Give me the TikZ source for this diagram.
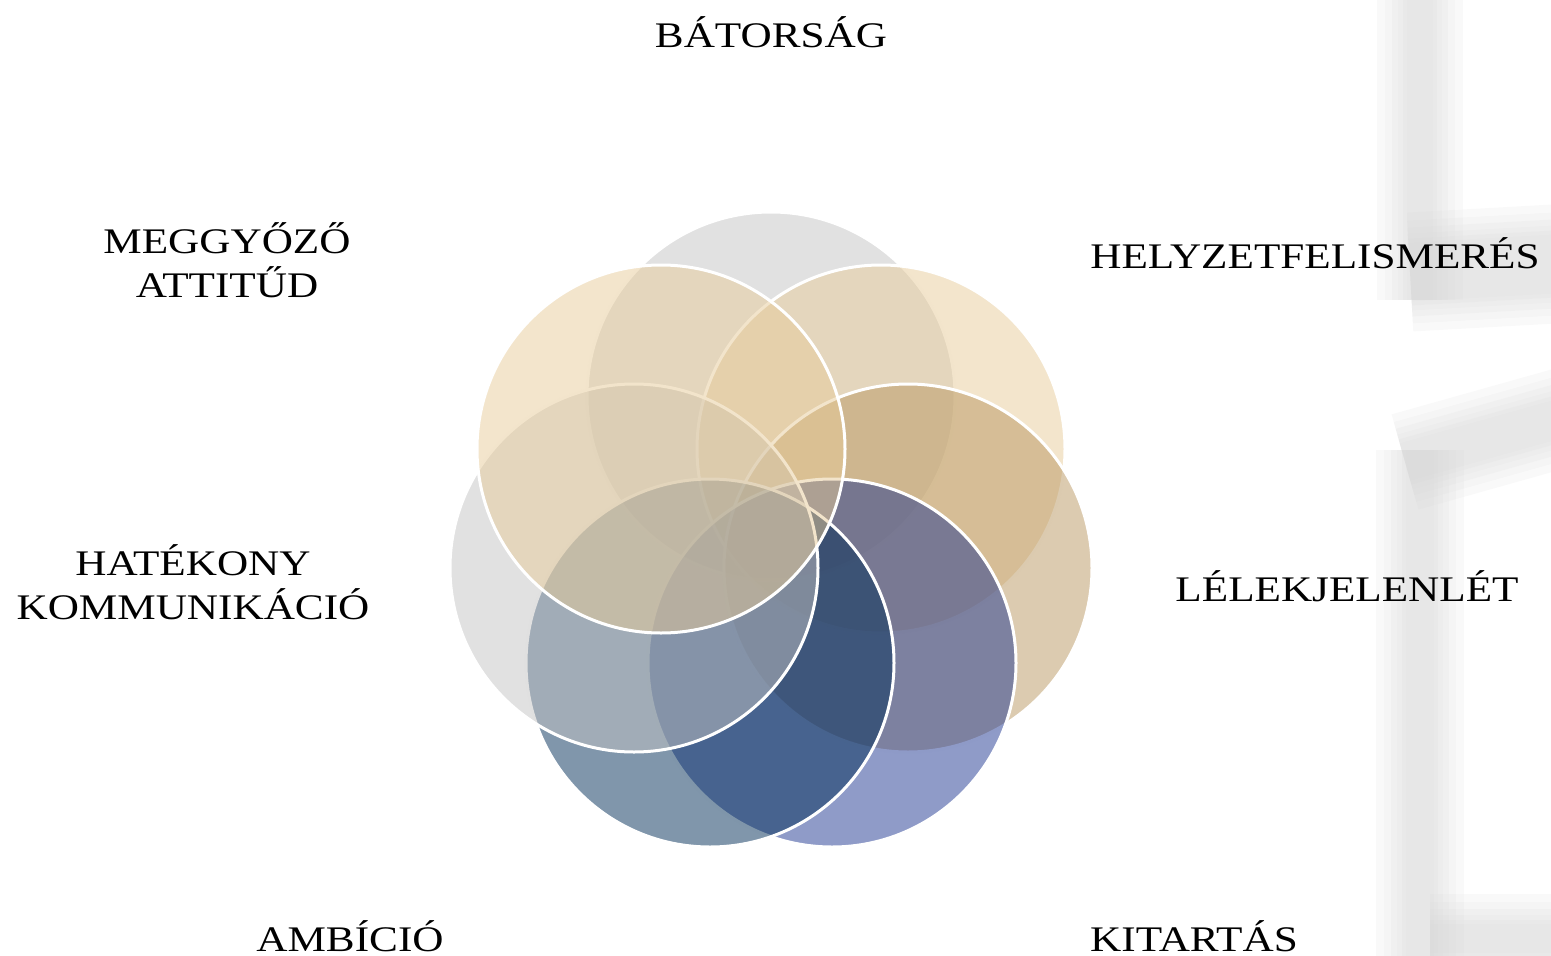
\documentclass[tikz,border=0pt]{standalone}
\usepackage{fontspec}
\setmainfont{Liberation Serif}[FakeStretch=1.2]
\definecolor{cgray}{HTML}{C3C3C3}
\definecolor{cbeige}{HTML}{E7CB99}
\definecolor{ctan}{HTML}{B99761}
\definecolor{clilac}{HTML}{1F3791}
\definecolor{cnavy}{HTML}{012D57}
\definecolor{bandgray}{HTML}{D4D4D4}
\newcommand\blurband[2]{%
  \foreach \e in {64,48,34,22,12,4}{%
    \pgfmathsetmacro\lw{#1+\e}%
    \draw[line width=\lw pt, draw=bandgray, draw opacity=0.13, line cap=butt, line join=round] #2;}}
\begin{document}
\begin{tikzpicture}[x=1pt,y=-1pt,
  venn/.style={fill opacity=0.5, draw=white, line width=3pt},
  lbl/.style={font=\fontsize{36}{44}\selectfont, inner sep=0pt, anchor=base}]
\useasboundingbox (0,0) rectangle (1551,956);
% blurred background on the right
\blurband{22}{(1420,-40) -- (1420,300)}
\blurband{55}{(1410,272) -- (1590,262)}
\blurband{35}{(1405,462) -- (1590,410)}
\blurband{24}{(1420,450) -- (1420,990)}
\blurband{25}{(1430,938) -- (1590,938)}
% circle centres
\coordinate (cA) at (771,396);
\coordinate (cB) at (881,449);
\coordinate (cC) at (908,568);
\coordinate (cD) at (832,663);
\coordinate (cE) at (710,663);
\coordinate (cF) at (634,568);
\coordinate (cG) at (661,449);
\path[venn, fill=cgray]  (cA) circle[radius=184];
\path[venn, fill=cbeige] (cB) circle[radius=184];
\path[venn, fill=ctan]   (cC) circle[radius=184];
\path[venn, fill=clilac] (cD) circle[radius=184];
\path[venn, fill=cnavy]  (cE) circle[radius=184];
\path[venn, fill=cgray]  (cF) circle[radius=184];
\path[venn, fill=cbeige] (cG) circle[radius=184];
% labels
\node[lbl] (tA) at (771,47) {BÁTORSÁG};
\node[lbl] (tB) at (1315,268) {HELYZETFELISMERÉS};
\node[lbl] (tC) at (1347,601) {LÉLEKJELENLÉT};
\node[lbl] (tD) at (1194,951) {KITARTÁS};
\node[lbl] (tE) at (350,951) {AMBÍCIÓ};
\node[lbl] (tF) at (193,575) {\begin{tabular}[t]{@{}c@{}}HATÉKONY\\KOMMUNIKÁCIÓ\end{tabular}};
\node[lbl] (tG) at (227,253) {\begin{tabular}[t]{@{}c@{}}MEGGYŐZŐ\\ATTITŰD\end{tabular}};
\end{tikzpicture}
\end{document}
